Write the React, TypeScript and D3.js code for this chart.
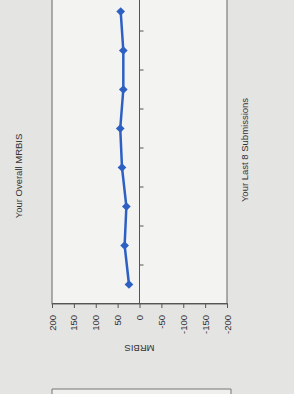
import React, { useEffect, useRef } from 'react';
import * as d3 from 'd3';

// submissions, oldest first (drawn bottom to top once the sheet is turned)
const submissions = [1, 2, 3, 4, 5, 6, 7, 8];
const mrbis = [24, 34, 30, 40, 44, 37, 37, 43];
const valueTicks = [200, 150, 100, 50, 0, -50, -100, -150, -200];

const TITLE = 'Your Overall MRBIS';
const X_TITLE = 'Your Last 8 Submissions';
const Y_TITLE = 'MRBIS';

const W = 294;
const H = 394;

export default function App() {
  const svgRef = useRef<SVGSVGElement>(null);

  useEffect(() => {
    if (!svgRef.current) return;
    const svg = d3.select(svgRef.current);
    svg.selectAll('*').remove();

    // scanned page background
    svg.append('rect').attr('width', W).attr('height', H).attr('fill', '#e4e4e3');

    // the chart is printed sideways: draw it upright and turn it -90deg
    // inside g: u runs along the page height, v along the page width
    const g = svg.append('g').attr('transform', `translate(0,${H}) rotate(-90)`);

    const plot = { left: 90, right: 402, top: 52, bottom: 227 };

    const x = d3.scalePoint<number>()
      .domain(submissions)
      .range([plot.left, plot.right])
      .padding(0.5);

    const y = d3.scaleLinear()
      .domain([-200, 200])
      .range([plot.bottom, plot.top]);

    const font = 'Arial, "Liberation Sans", sans-serif';

    // plot area
    g.append('rect')
      .attr('x', plot.left)
      .attr('y', plot.top)
      .attr('width', plot.right - plot.left)
      .attr('height', plot.bottom - plot.top)
      .attr('fill', '#f3f3f2')
      .attr('stroke', '#666')
      .attr('stroke-width', 1);

    // value axis
    const yAxis = g.append('g')
      .attr('transform', `translate(${plot.left},0)`)
      .call(d3.axisLeft(y)
        .tickValues(valueTicks)
        .tickFormat(d => String(d))
        .tickSize(4)
        .tickPadding(7));
    yAxis.select('.domain').attr('stroke', '#555');
    yAxis.selectAll('line').attr('stroke', '#555');
    yAxis.selectAll('text')
      .attr('fill', '#333')
      .attr('font-family', font)
      .attr('font-size', 9.5);

    // category axis on the zero line, ticks between points
    const step = x.step();
    const catTicks = d3.range(submissions.length + 1).map(i => plot.left + i * step);
    g.append('line')
      .attr('x1', plot.left).attr('x2', plot.right)
      .attr('y1', y(0)).attr('y2', y(0))
      .attr('stroke', '#555');
    g.selectAll('.ctick')
      .data(catTicks.slice(1, -1))
      .join('line')
      .attr('x1', d => d).attr('x2', d => d)
      .attr('y1', y(0)).attr('y2', y(0) + 4)
      .attr('stroke', '#555');

    // series
    const line = d3.line<number>()
      .x((_, i) => x(submissions[i]) as number)
      .y(d => y(d));

    g.append('path')
      .datum(mrbis)
      .attr('d', line)
      .attr('fill', 'none')
      .attr('stroke', '#2d60c2')
      .attr('stroke-width', 2.5);

    const diamond = d3.symbol().type(d3.symbolSquare).size(38);
    g.selectAll('.pt')
      .data(mrbis)
      .join('path')
      .attr('d', diamond)
      .attr('transform', (d, i) => `translate(${x(submissions[i])},${y(d)}) rotate(45)`)
      .attr('fill', '#2d60c2');

    // titles
    g.append('text')
      .attr('x', 218).attr('y', 18)
      .attr('text-anchor', 'middle')
      .attr('dominant-baseline', 'central')
      .attr('font-family', font).attr('font-size', 9.5)
      .attr('fill', '#333')
      .text(TITLE);

    g.append('text')
      .attr('x', 244).attr('y', 244)
      .attr('text-anchor', 'middle')
      .attr('dominant-baseline', 'central')
      .attr('font-family', font).attr('font-size', 9.5)
      .attr('fill', '#333')
      .text(X_TITLE);

    g.append('text')
      .attr('transform', `translate(46,${y(0)}) rotate(-90)`)
      .attr('text-anchor', 'middle')
      .attr('dominant-baseline', 'central')
      .attr('font-family', font).attr('font-size', 9.5)
      .attr('fill', '#333')
      .text(Y_TITLE);

    // edge of the next chart's frame on the page
    g.append('path')
      .attr('d', `M-10,${plot.top}L5,${plot.top}L5,231L-10,231`)
      .attr('fill', '#efefee')
      .attr('stroke', '#777');
  }, []);

  return (
    <>
      <style>{'body{margin:0}'}</style>
      <svg ref={svgRef} width={W} height={H} style={{ display: 'block' }} />
    </>
  );
}
